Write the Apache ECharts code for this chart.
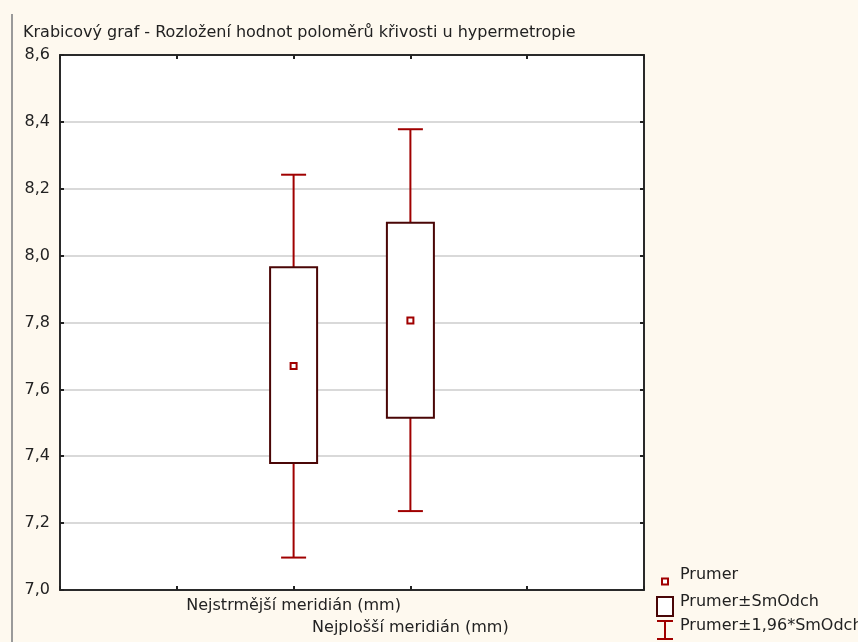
<!DOCTYPE html>
<html>
<head>
<meta charset="utf-8">
<script src="https://cdn.jsdelivr.net/npm/echarts@6/dist/echarts.min.js"></script>
<style>
html,body{margin:0;padding:0;background:#fef9ef;}
#chart{width:858px;height:642px;}
</style>
</head>
<body>
<div id="chart"></div>
<script>
// ---- data ----
const titleText = 'Krabicový graf - Rozložení hodnot poloměrů křivosti u hypermetropie';
const categories = ['', '', 'Nejstrmější meridián (mm)', 'Nejplošší meridián (mm)', '', ''];
const boxCategoryIndex = [2, 3];
const means = [7.670, 7.806];
const sdLow = [7.380, 7.515];
const sdHigh = [7.965, 8.098];
const ciLow = [7.097, 7.236];
const ciHigh = [8.242, 8.378];
const yTicks = [7.0, 7.2, 7.4, 7.6, 7.8, 8.0, 8.2, 8.4, 8.6];
const legendLabels = ['Prumer', 'Prumer\u00B1SmOdch', 'Prumer\u00B11,96*SmOdch'];

const FONT = 'DejaVu Sans';
const FS = 16;
const RED = '#a00000';
const BOXC = '#4a0606';
const TXT = '#222';
const FRAME = {show: true, lineStyle: {color: '#2a2a2a', width: 2}};

const boxData = boxCategoryIndex.map((c, i) => [c, ciLow[i], sdLow[i], means[i], sdHigh[i], ciHigh[i]]);

const chart = echarts.init(document.getElementById('chart'));
const fmt = v => Number(v).toFixed(1).replace('.', ',');

chart.setOption({
  backgroundColor: '#fef9ef',
  animation: false,
  title: {
    text: titleText, left: 18, top: 20,
    textStyle: {fontFamily: FONT, fontSize: FS, fontWeight: 'normal', color: TXT}
  },
  grid: {left: 60, top: 55, right: 214, bottom: 52, show: true, backgroundColor: '#ffffff', borderWidth: 0},
  xAxis: [{
    type: 'category', data: categories, boundaryGap: false, position: 'bottom',
    axisLine: FRAME,
    axisTick: {show: true, inside: true, length: 4, interval: 0, lineStyle: {color: '#222', width: 2}},
    axisLabel: {interval: 0, margin: 5, fontFamily: FONT, fontSize: FS, lineHeight: 22, color: TXT,
      formatter: (v, i) => (i === 3 ? '\n' + v : v)},
    splitLine: {show: false}
  }, {
    type: 'category', data: categories, boundaryGap: false, position: 'top',
    axisLine: FRAME,
    axisTick: {show: true, inside: true, length: 4, interval: 0, lineStyle: {color: '#222', width: 2}},
    axisLabel: {show: false}, splitLine: {show: false}
  }],
  yAxis: [{
    type: 'value', min: yTicks[0], max: yTicks[yTicks.length - 1], interval: 0.2,
    axisLine: FRAME,
    axisTick: {show: true, inside: true, length: 4, lineStyle: {color: '#222', width: 2}},
    axisLabel: {margin: 10, fontFamily: FONT, fontSize: FS, color: TXT, formatter: fmt},
    splitLine: {show: true, showMinLine: false, showMaxLine: false, lineStyle: {color: '#d9d9d9', width: 2}}
  }, {
    type: 'value', position: 'right', min: yTicks[0], max: yTicks[yTicks.length - 1], interval: 0.2,
    axisLine: FRAME,
    axisTick: {show: true, inside: true, length: 4, lineStyle: {color: '#222', width: 2}},
    axisLabel: {show: false}, splitLine: {show: false}
  }],
  series: [{
    type: 'custom',
    data: boxData,
    renderItem: function (params, api) {
      const x = api.value(0);
      const pLo = api.coord([x, api.value(1)]);
      const pSl = api.coord([x, api.value(2)]);
      const pM = api.coord([x, api.value(3)]);
      const pSh = api.coord([x, api.value(4)]);
      const pHi = api.coord([x, api.value(5)]);
      const cx = pM[0];
      const bw = 47, cw = 25, ms = 6;
      const wStyle = {stroke: RED, lineWidth: 2};
      return {
        type: 'group',
        children: [
          {type: 'line', shape: {x1: cx, y1: pSh[1], x2: cx, y2: pHi[1]}, style: wStyle},
          {type: 'line', shape: {x1: cx, y1: pSl[1], x2: cx, y2: pLo[1]}, style: wStyle},
          {type: 'line', shape: {x1: cx - cw / 2, y1: pHi[1], x2: cx + cw / 2, y2: pHi[1]}, style: wStyle},
          {type: 'line', shape: {x1: cx - cw / 2, y1: pLo[1], x2: cx + cw / 2, y2: pLo[1]}, style: wStyle},
          {type: 'rect', shape: {x: cx - bw / 2, y: pSh[1], width: bw, height: pSl[1] - pSh[1]},
            style: {fill: '#ffffff', stroke: BOXC, lineWidth: 2}},
          {type: 'rect', shape: {x: cx - ms / 2, y: pM[1] - ms / 2, width: ms, height: ms},
            style: {fill: '#ffffff', stroke: RED, lineWidth: 2}}
        ]
      };
    }
  }],
  graphic: [
    {type: 'line', shape: {x1: 12, y1: 14, x2: 12, y2: 642}, style: {stroke: '#9a9a9a', lineWidth: 2}},
    // legend
    {type: 'rect', shape: {x: 662, y: 578.5, width: 6, height: 6}, style: {fill: '#fff', stroke: RED, lineWidth: 2}},
    {type: 'text', x: 680, y: 575, style: {text: legendLabels[0], fontFamily: FONT, fontSize: FS, fill: TXT, verticalAlign: 'middle'}},
    {type: 'rect', shape: {x: 657, y: 597, width: 16, height: 19}, style: {fill: '#fff', stroke: BOXC, lineWidth: 2}},
    {type: 'text', x: 680, y: 602, style: {text: legendLabels[1], fontFamily: FONT, fontSize: FS, fill: TXT, verticalAlign: 'middle'}},
    {type: 'line', shape: {x1: 657, y1: 621, x2: 673, y2: 621}, style: {stroke: RED, lineWidth: 2}},
    {type: 'line', shape: {x1: 665, y1: 621, x2: 665, y2: 639}, style: {stroke: RED, lineWidth: 2}},
    {type: 'line', shape: {x1: 657, y1: 639, x2: 673, y2: 639}, style: {stroke: RED, lineWidth: 2}},
    {type: 'text', x: 680, y: 626, style: {text: legendLabels[2], fontFamily: FONT, fontSize: FS, fill: TXT, verticalAlign: 'middle'}}
  ]
});
</script>
</body>
</html>
